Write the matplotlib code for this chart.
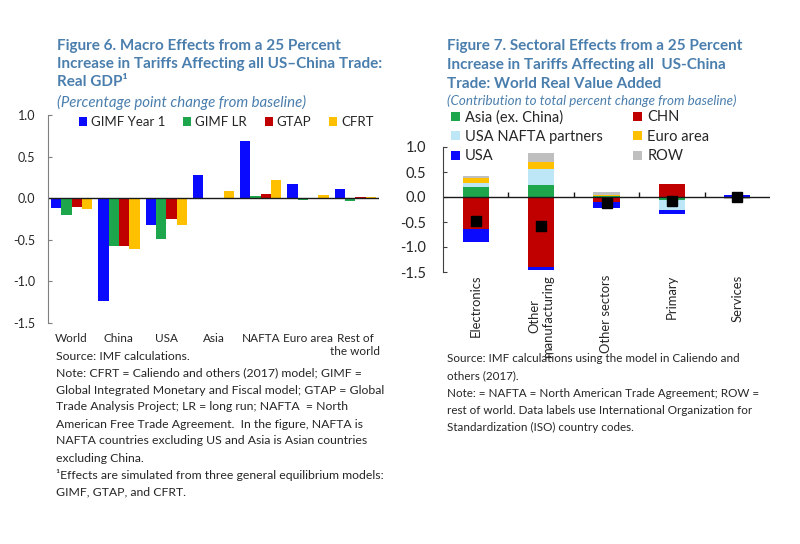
import matplotlib.pyplot as plt
from matplotlib.patches import Patch
import numpy as np

plt.rcParams['font.family'] = ['Lato', 'DejaVu Sans']

# Figure 6 data: real GDP, percentage point change from baseline
regions = ["World", "China", "USA", "Asia", "NAFTA", "Euro area", "Rest of\nthe world"]
gimf_y1 = [-0.12, -1.24, -0.32, 0.28, 0.69, 0.17, 0.11]
gimf_lr = [-0.20, -0.58, -0.49, 0.005, 0.03, -0.02, -0.03]
gtap = [-0.10, -0.57, -0.25, 0.005, 0.05, 0.005, 0.02]
cfrt = [-0.13, -0.61, -0.32, 0.09, 0.22, 0.04, 0.02]

# Figure 7 data: contribution to world real value added by sector
sectors = ["Electronics", "Other\nmanufacturing", "Other sectors", "Primary", "Services"]
asia = [0.20, 0.25, 0.02, -0.05, 0.00]
chn = [-0.64, -1.40, -0.09, 0.27, 0.00]
nafta = [0.09, 0.31, 0.00, -0.21, 0.00]
euro = [0.09, 0.15, 0.03, 0.00, -0.01]
usa = [-0.26, -0.05, -0.13, -0.08, 0.04]
row = [0.04, 0.17, 0.05, 0.00, -0.02]

notes6 = ["Source: IMF calculations.",
          "Note: CFRT = Caliendo and others (2017) model; GIMF =",
          "Global Integrated Monetary and Fiscal model; GTAP = Global",
          "Trade Analysis Project; LR = long run; NAFTA  = North",
          "American Free Trade Agreement.  In the figure, NAFTA is",
          "NAFTA countries excluding US and Asia is Asian countries",
          "excluding China.",
          "\u00b9Effects are simulated from three general equilibrium models:",
          "GIMF, GTAP, and CFRT."]
notes7 = ["Source: IMF calculations using the model in Caliendo and",
          "others (2017).",
          "Note: = NAFTA = North American Trade Agreement; ROW =",
          "rest of world. Data labels use International Organization for",
          "Standardization (ISO) country codes."]

title_col = '#4a7ead'
text_col = '#262626'
blue, green, red, yellow = '#0a0aff', '#1da64c', '#c00000', '#ffc000'
lightblue, grey = '#bde6f7', '#bfbfbf'

fig = plt.figure(figsize=(8, 5.44), dpi=100)

# ---------------- Figure 6 ----------------
fig.text(57 / 800, 1 - 39 / 544, "Figure 6. Macro Effects from a 25 Percent\n"
         "Increase in Tariffs Affecting all US\u2013China Trade:\nReal GDP\u00b9",
         color=title_col, fontsize=11, fontweight='bold', va='top',
         linespacing=1.36)
fig.text(57 / 800, 1 - 102 / 544, "(Percentage point change from baseline)",
         color=title_col, fontsize=10.8, style='italic', va='center')

ax1 = fig.add_axes([48 / 800, 1 - 323 / 544, 331 / 800, 208 / 544])
x = np.arange(len(regions))
w = 0.218
series = [(gimf_y1, blue, "GIMF Year 1"), (gimf_lr, green, "GIMF LR"),
          (gtap, red, "GTAP"), (cfrt, yellow, "CFRT")]
for i, (vals, col, lab) in enumerate(series):
    ax1.bar(x + (i - 1.5) * w, vals, w, color=col, label=lab)
ax1.axhline(0, color='#1a1a1a', lw=1)
ax1.set_xlim(-0.5, len(regions) - 0.5)
ax1.set_ylim(-1.5, 1.0)
ax1.set_yticks(np.arange(-1.5, 1.01, 0.5))
ax1.set_yticklabels([f"{v:.1f}" for v in np.arange(-1.5, 1.01, 0.5)])
ax1.set_xticks(x)
ax1.set_xticklabels(regions)
for s in ['top', 'right', 'bottom']:
    ax1.spines[s].set_visible(False)
ax1.spines['left'].set_color('#7f7f7f')
ax1.tick_params(axis='y', direction='in', length=3, color='#7f7f7f',
                labelsize=9, labelcolor=text_col, pad=9)
ax1.tick_params(axis='x', length=0, labelsize=8.5, labelcolor=text_col, pad=7)
ax1.legend(ncol=4, loc='upper left', bbox_to_anchor=(0.077, 1.02), frameon=False,
           fontsize=9.5, handlelength=0.6, handleheight=0.6, handletextpad=0.3,
           columnspacing=1.37, labelcolor=text_col, borderaxespad=0)

for i, line in enumerate(notes6):
    fig.text(56 / 800, 1 - (356 + 17 * i) / 544, line, fontsize=8.8,
             color=text_col, va='center')

# ---------------- Figure 7 ----------------
fig.text(447 / 800, 1 - 39 / 544, "Figure 7. Sectoral Effects from a 25 Percent\n"
         "Increase in Tariffs Affecting all  US-China\nTrade: World Real Value Added",
         color=title_col, fontsize=11, fontweight='bold', va='top',
         linespacing=1.45)
fig.text(447 / 800, 1 - 101 / 544, "(Contribution to total percent change from baseline)",
         color=title_col, fontsize=9.6, style='italic', va='center')

ax2 = fig.add_axes([443 / 800, 1 - 272 / 544, 327 / 800, 125 / 544])
xs = np.arange(len(sectors))
bw = 0.4
stack = [(asia, green, "Asia (ex. China)"), (chn, red, "CHN"),
         (nafta, lightblue, "USA NAFTA partners"), (euro, yellow, "Euro area"),
         (usa, blue, "USA"), (row, grey, "ROW")]
pos = np.zeros(len(sectors))
neg = np.zeros(len(sectors))
handles = {}
for vals, col, lab in stack:
    v = np.array(vals)
    bottom = np.where(v >= 0, pos, neg)
    ax2.bar(xs, v, bw, bottom=bottom, color=col)
    pos = pos + np.clip(v, 0, None)
    neg = neg + np.clip(v, None, 0)
    handles[lab] = Patch(facecolor=col)
total = pos + neg
ax2.plot(xs, total, 's', color='black', ms=7.5, zorder=5)
ax2.axhline(0, color='#1a1a1a', lw=1)
ax2.vlines(xs[:-1] + 0.5, 0, 0.1, color='#1a1a1a', lw=1)
ax2.set_xlim(-0.5, len(sectors) - 0.5)
ax2.set_ylim(-1.5, 1.0)
ax2.set_yticks(np.arange(-1.5, 1.01, 0.5))
ax2.set_yticklabels([f"{v:.1f}" for v in np.arange(-1.5, 1.01, 0.5)])
ax2.set_xticks(xs)
ax2.set_xticklabels(sectors, rotation=90)
for s in ['top', 'right', 'bottom']:
    ax2.spines[s].set_visible(False)
ax2.spines['left'].set_color('#404040')
ax2.tick_params(axis='y', direction='in', length=3, color='#404040',
                labelsize=10.5, labelcolor=text_col, pad=12)
ax2.tick_params(axis='x', length=0, labelsize=9.4, labelcolor=text_col, pad=2)

order = ["Asia (ex. China)", "USA NAFTA partners", "USA", "CHN", "Euro area", "ROW"]
fig.legend([handles[k] for k in order], order, ncol=2, loc='upper left',
           bbox_to_anchor=(451 / 800, 1 - 110 / 544), frameon=False, fontsize=10.5,
           handlelength=0.6, handleheight=0.6, handletextpad=0.35,
           columnspacing=2.1, labelspacing=0.38, labelcolor=text_col, borderaxespad=0,
           borderpad=0)

for i, line in enumerate(notes7):
    fig.text(447 / 800, 1 - (359 + 17.2 * i) / 544, line, fontsize=8.4,
             color=text_col, va='center')

fig.savefig("out.png", dpi=100)
